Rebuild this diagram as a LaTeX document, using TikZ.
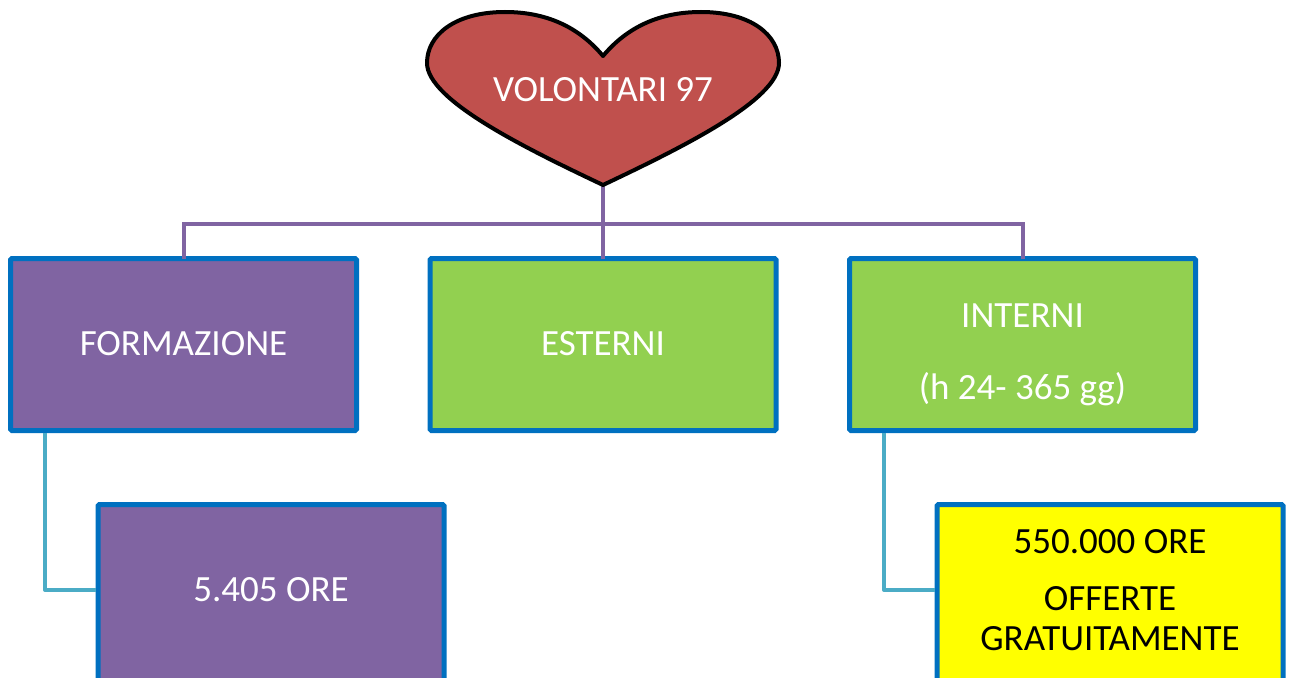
\documentclass[tikz,border=0pt]{standalone}
\usepackage{fontspec}
\setmainfont{Carlito}
\definecolor{heartred}{HTML}{C0504D}
\definecolor{purp}{HTML}{8064A2}
\definecolor{grn}{HTML}{92D050}
\definecolor{bord}{HTML}{0070C0}
\definecolor{cyanl}{HTML}{4BACC6}
\definecolor{yel}{HTML}{FFFF00}
\tikzset{
  box/.style={draw=bord, line width=5pt, rounded corners=1.5pt, minimum width=346pt, minimum height=172pt, inner sep=0pt, outer sep=0pt},
  tallbox/.style={box, minimum height=216pt},
  lbl/.style={inner sep=0pt, text height=23.8pt, text depth=0pt, font=\fontsize{37}{41}\selectfont},
  wlbl/.style={lbl, text=white},
  purpline/.style={draw=purp, line width=4pt},
  cyanline/.style={draw=cyanl, line width=4pt, line join=round},
}
\begin{document}
\begin{tikzpicture}[x=1pt, y=-1pt]
\useasboundingbox (0,0) rectangle (1292,677);
\clip (0,0) rectangle (1292,677);
% connectors (behind)
\coordinate (hb) at (603,185);
\node[box, fill=purp] (form) at (183.5,344.5) {};
\node[box, fill=grn] (est) at (603,344.5) {};
\node[box, fill=grn] (int) at (1022.5,344.5) {};
\node[tallbox, fill=purp] (ore) at (271,612.5) {};
\node[tallbox, fill=yel] (gra) at (1110,612.5) {};
\draw[purpline] (hb) -- (est.north);
\draw[purpline] (form.north) -- ++(0,-35) coordinate (busl) -| (int.north);
\coordinate (c1) at (45,433);
\coordinate (j1) at (96,590);
\coordinate (c2) at (884,433);
\coordinate (j2) at (935,590);
\draw[cyanline] (c1) |- (j1);
\draw[cyanline] (c2) |- (j2);
% heart
\draw[fill=heartred, draw=black, line width=4pt, line join=round]
  (603,56) .. controls (578,26) and (545,12) .. (505,12)
  .. controls (455,12) and (427,35) .. (427,63)
  .. controls (427,100) and (525,148) .. (hb)
  .. controls (681,148) and (779,100) .. (779,63)
  .. controls (779,35) and (751,12) .. (701,12)
  .. controls (661,12) and (628,26) .. (603,56) -- cycle;
\node[wlbl] (vol) at (603,90) {VOLONTARI 97};
\node[wlbl] (tform) at (183.5,343.5) {FORMAZIONE};
\node[wlbl] (test) at (603,343.5) {ESTERNI};
\node[wlbl] (tint1) at (1022.5,316) {INTERNI};
\node[wlbl] (tint2) at (1022.5,388) {(h 24- 365 gg)};
\node[wlbl] (tore) at (271,590) {5.405 ORE};
\node[lbl] (tg1) at (1110,541.5) {550.000 ORE};
\node[lbl] (tg2) at (1110,598.5) {OFFERTE};
\node[lbl] (tg3) at (1110,638.5) {GRATUITAMENTE};
\end{tikzpicture}
\end{document}
